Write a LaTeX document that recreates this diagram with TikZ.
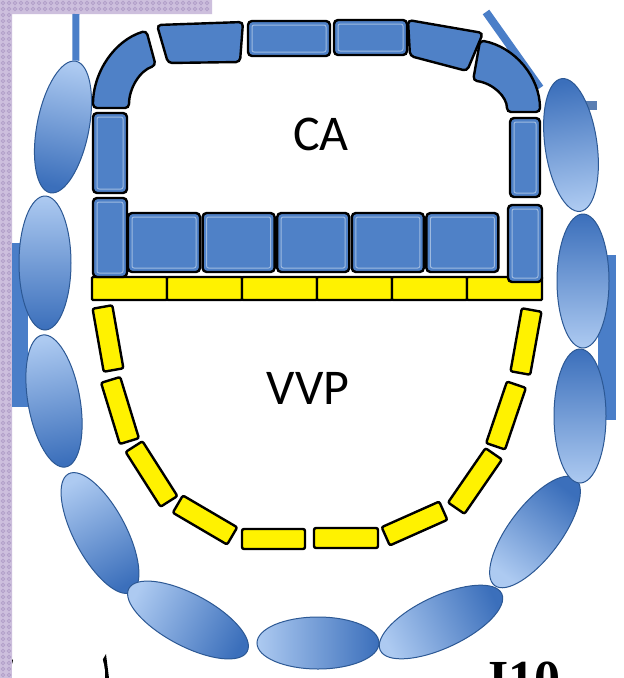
\documentclass[tikz,border=0pt]{standalone}
\usepackage{fontspec}
\setmainfont{Carlito}
\newfontfamily\tagfont{Liberation Serif}
\usetikzlibrary{shapes.geometric}

\definecolor{caBlue}{HTML}{4F81C7}
\definecolor{podLight}{HTML}{ADCAF1}
\definecolor{podDark}{HTML}{3B6FBB}
\definecolor{podEdge}{HTML}{2C5894}
\definecolor{frameLilac}{HTML}{CDBFDD}
\definecolor{dotLilac}{HTML}{B29FC9}
\definecolor{stemBlue}{HTML}{4A7EC8}

\tikzset{
  cacell/.style={draw=black, line width=2.4pt, fill=caBlue, rounded corners=4pt, inner sep=0pt},
  bevel/.style={path picture={\draw[caBlue!55!white, line width=1pt, rounded corners=2pt]
    ([shift={(4pt,-4pt)}]path picture bounding box.north west) rectangle
    ([shift={(-4pt,4pt)}]path picture bounding box.south east);}},
  vvpcell/.style={draw=black, line width=2.4pt, fill=yellow, rounded corners=2pt, inner sep=0pt, minimum height=20pt},
  outercell/.style={ellipse, draw=podEdge, line width=1pt, top color=podLight, bottom color=podDark,
    shading angle=#1, rotate=#1, inner sep=0pt, minimum width=52pt, minimum height=134pt},
  label/.style={font=\fontsize{50}{60}\selectfont, inner sep=0pt}
}

\begin{document}
\begin{tikzpicture}[x=1pt,y=-1pt]
	\useasboundingbox (0,0) rectangle (624,678);
	\clip (0,0) rectangle (624,678);
	\fill[white] (0,0) rectangle (624,678);
	\fill[frameLilac] (0,0) rectangle (12,678) (0,0) rectangle (212,14);
	\foreach \i in {3,9,...,675} {
		\draw[dotLilac, line width=0.8] (3,\i) circle (1.8) (9,\i) circle (1.8);
	}
	\foreach \i in {15,21,...,209} {
		\draw[dotLilac, line width=0.8] (\i,3) circle (1.8) (\i,9) circle (1.8);
	}
	\fill[stemBlue] (12,243) rectangle (28,407);
	\fill[stemBlue] (598,255) rectangle (616,420);
	\fill[stemBlue!70!gray] (586,101) rectangle (597,110);
	\draw[stemBlue, line width=8] (486,12) -- (540,88);
	\fill (12,659) -- (17,666) -- (12,673) -- cycle;
	\fill (92,678) -- (106,654) -- (109,678) -- cycle;
	\begin{scope}
		\clip (12,600) rectangle (120,678);
		\fill[white] (58,674) ellipse (47 and 46);
	\end{scope}

	\foreach \n/\x/\y/\a in {1/63/127/-11, 2/45/263/0, 3/54/401/10, 4/100/533/28, 5/188/620/62,
		7/441/622/115, 8/535/532/143, 9/580/416/180, 10/583/281/180, 11/571/145/188}
		\node[outercell=\a] (outer\n) at (\x,\y) {};
	\node[outercell=90, minimum height=122pt] (outer6) at (318,643) {};
	\coordinate (stemTop) at (76,14);
	\draw[stemBlue, line width=7] (stemTop) -- (outer1.north);

	\draw[cacell] (93,108) arc[start angle=180, end angle=255, x radius=72, y radius=80]
		-- (155.7,65.5) arc[start angle=255, end angle=180, x radius=36, y radius=44] -- cycle;
	\draw[cacell] (157,25) -- (243,22) -- (240,62) -- (168,63) -- cycle;
	\node[cacell, bevel, minimum width=82, minimum height=35] (top2) at (289,38.5) {};
	\node[cacell, bevel, minimum width=73, minimum height=35] (top3) at (370.5,37.5) {};
	\draw[cacell] (408,20) -- (483,33) -- (467,71) -- (410,56) -- cycle;
	\draw[cacell] (540,112) arc[start angle=0, end angle=-79, x radius=74, y radius=73]
		-- (473.1,80.5) arc[start angle=-80, end angle=0, x radius=41, y radius=32] -- cycle;
	\node[cacell, bevel, minimum width=34, minimum height=80] (left1) at (110,153) {};
	\node[cacell, bevel, minimum width=30, minimum height=79] (right1) at (525,157.5) {};

	\foreach \k in {0,...,5}
		\node[vvpcell, minimum width=75, minimum height=23, rounded corners=1pt] (band\k) at ({129.5+75*\k},288.5) {};
	\node[cacell, bevel, minimum width=34, minimum height=79] (left2) at (110,237.5) {};
	\node[cacell, bevel, minimum width=34, minimum height=77] (right2) at (525,243.5) {};
	\foreach \k in {1,...,5}
		\node[cacell, bevel, minimum width=72, minimum height=59] (floor\k) at ({164+74.6*(\k-1)},242.5) {};

	\foreach \n/\x/\y/\a/\l in {1/108/338.5/-80/64, 2/120/410.5/-73/64, 3/151.5/474/-57.5/65,
		4/205/520/-30.4/63, 5/273.5/539/0/63, 6/346/538/0/64, 7/414.5/523.5/24/63,
		8/475/481/55.4/66, 9/506/415.5/71.3/65, 10/526/341.5/79.8/64}
		\node[vvpcell, minimum width=\l, rotate=\a] (vvp\n) at (\x,\y) {};

	\node[label] (ca) at (321,134) {CA};
	\node[label] (vvp) at (308,388) {VVP};
	\node[font=\tagfont\bfseries\fontsize{52}{60}\selectfont, anchor=base west, inner sep=0pt] (tag) at (488,696) {I10};
\end{tikzpicture}
\end{document}
